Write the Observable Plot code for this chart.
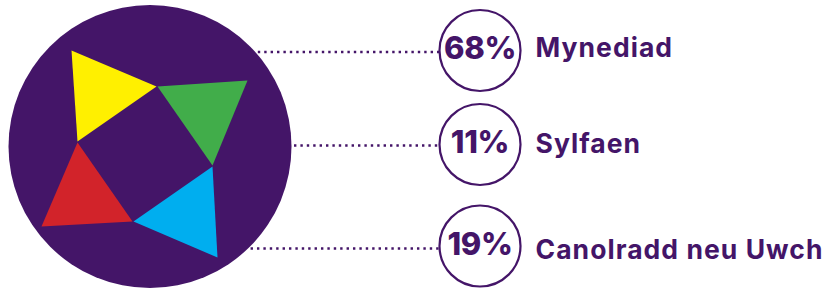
<!DOCTYPE html>
<html>
<head>
<meta charset="utf-8">
<script src="https://cdn.jsdelivr.net/npm/d3@7"></script>
<script src="https://cdn.jsdelivr.net/npm/@observablehq/plot@0.6"></script>
<style>
  html, body { margin: 0; padding: 0; background: #ffffff; }
  #chart svg { display: block; }
</style>
</head>
<body>
<div id="chart"></div>
<script>
// ---- Data ----
const categories = ["Mynediad", "Sylfaen", "Canolradd neu Uwch"];
const percents = [68, 11, 19];

// decorative logo triangles (inside the big circle)
const triangleColors = ["#fff000", "#41ad4a", "#00aeef", "#d2232a"];
const triangleVertices = [
  [[71, 50], [156, 86], [77, 141]],
  [[157, 86], [247, 80], [212, 165]],
  [[212, 166], [217, 257], [133, 221]],
  [[77, 142], [132, 221], [41, 226]]
];

// ---- Layout ----
const W = 835, H = 288;
const purple = "#441568";
const big = { x: 149.5, y: 146, r: 141.5 };
const badgeX = 479.5, badgeR = 40.5;
const badgeY = [50, 144, 245.5];
const lineY = [51.5, 145, 248];
const labelX = 535;
const labelBaseline = [56, 152.5, 258.3];

const rows = categories.map((c, i) => {
  const dy = lineY[i] - big.y;
  const edge = big.x + Math.sqrt(Math.max(0, big.r * big.r - dy * dy));
  return {
    category: c,
    pct: percents[i],
    by: badgeY[i],
    ly: lineY[i],
    tb: labelBaseline[i],
    x1: edge + 3,
    x2: badgeX - badgeR
  };
});

const triPts = triangleVertices.flatMap((tri, i) =>
  tri.map(([x, y]) => ({ id: i, x, y, color: triangleColors[i] }))
);

const chart = Plot.plot({
  width: W,
  height: H,
  margin: 0,
  x: { domain: [0, W], range: [0, W], axis: null },
  y: { domain: [0, H], range: [0, H], axis: null },
  color: { type: "identity" },
  style: { fontFamily: "Inter, 'Open Sans', sans-serif", background: "#fff" },
  marks: [
    Plot.ruleY(rows, {
      y: "ly", x1: "x1", x2: "x2",
      stroke: purple, strokeWidth: 2.4, strokeDasharray: "2.4 4"
    }),
    Plot.dot([big], { x: "x", y: "y", r: big.r, fill: purple, stroke: "none" }),
    Plot.line(triPts, {
      x: "x", y: "y", z: "id", fill: "color", stroke: "none", curve: "linear-closed"
    }),
    Plot.dot(rows, {
      x: () => badgeX, y: "by", r: badgeR,
      fill: "#fff", stroke: purple, strokeWidth: 2.2
    }),
    Plot.text(rows, {
      x: () => badgeX, y: d => d.by - 1, text: d => d.pct + "%",
      fontSize: 31, fontWeight: 800, fill: purple, textAnchor: "middle"
    }),
    Plot.text(rows, {
      x: () => labelX, y: "tb", text: "category", lineAnchor: "bottom",
      fontSize: 26.5, fontWeight: 700, fill: purple, textAnchor: "start"
    })
  ]
});

// widen the category labels to match the original typeface's width
const textGroups = chart.querySelectorAll('g[aria-label="text"]');
if (textGroups.length >= 2) {
  textGroups[0].style.letterSpacing = "-0.3px";
  textGroups[1].style.letterSpacing = "1.05px";
}

document.getElementById("chart").appendChild(chart);
</script>
</body>
</html>
